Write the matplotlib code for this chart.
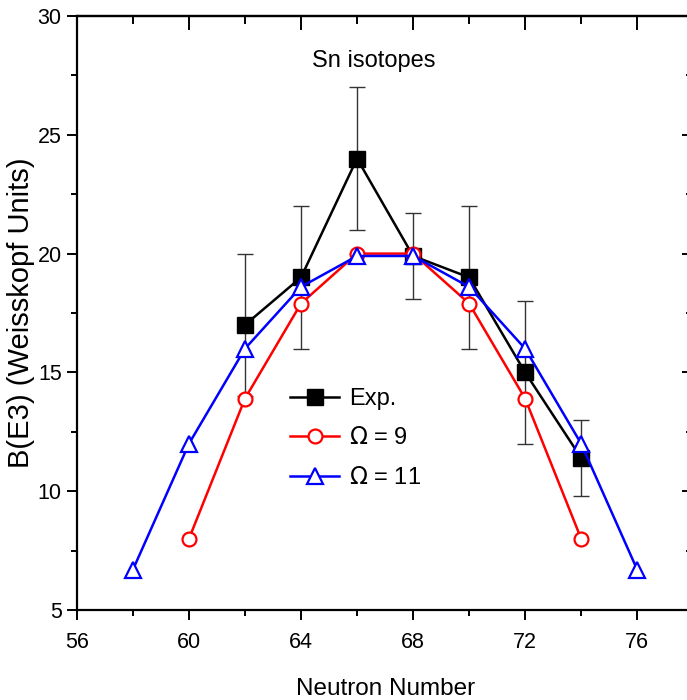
import numpy as np
import matplotlib.pyplot as plt
from matplotlib.ticker import MultipleLocator

plt.rcParams['font.family'] = ['Liberation Sans', 'DejaVu Sans']

# Experimental B(E3) values with errors
n_exp = [62, 64, 66, 68, 70, 72, 74]
b_exp = [17, 19, 24, 19.9, 19, 15, 11.4]
b_err = [3, 3, 3, 1.8, 3, 3, 1.6]

# Calculated values for two shell degeneracies
n_om9 = [60, 62, 64, 66, 68, 70, 72, 74]
b_om9 = [8, 13.9, 17.9, 20, 20, 17.9, 13.9, 8]

n_om11 = [58, 60, 62, 64, 66, 68, 70, 72, 74, 76]
b_om11 = [6.7, 12, 16, 18.6, 19.9, 19.9, 18.6, 16, 12, 6.7]

fig = plt.figure(figsize=(6.87, 7.0), dpi=100)
ax = fig.add_axes([0.112, 0.1286, 0.897, 0.8485])

ax.errorbar(n_exp, b_exp, yerr=b_err, fmt='none', ecolor='#333333',
            elinewidth=1, capsize=6, capthick=1, zorder=1)
ax.plot(n_exp, b_exp, '-s', color='black', lw=1.8, ms=11.5,
        mec='black', mfc='black', label='Exp.', zorder=2)
ax.plot(n_om9, b_om9, '-o', color='red', lw=1.8, ms=10, mew=1.6,
        mfc='white', mec='red', label=r'$\Omega$ = 9', zorder=3)
ax.plot(n_om11, b_om11, '-^', color='blue', lw=1.8, ms=11, mew=1.6,
        mfc='white', mec='blue', label=r'$\Omega$ = 11', zorder=4)

ax.set_xlim(56, 78)
ax.set_ylim(5, 30)
ax.xaxis.set_major_locator(MultipleLocator(4))
ax.xaxis.set_minor_locator(MultipleLocator(2))
ax.yaxis.set_major_locator(MultipleLocator(5))
ax.yaxis.set_minor_locator(MultipleLocator(2.5))

for s in ax.spines.values():
    s.set_linewidth(1.6)

ax.tick_params(which='both', direction='out', width=1.4, labelsize=15.5,
               top=False, right=False)
ax.tick_params(which='major', length=7)
ax.tick_params(which='minor', length=4)
ax.tick_params(axis='x', which='major', pad=8.5)
ax.tick_params(axis='y', which='major', pad=4)

# inward ticks on the mirrored axes
sec = ax.secondary_xaxis('top')
sec.xaxis.set_major_locator(MultipleLocator(4))
sec.xaxis.set_minor_locator(MultipleLocator(2))
sec.tick_params(which='both', direction='in', width=1.4, labeltop=False)
sec.tick_params(which='major', length=10)
sec.tick_params(which='minor', length=6)
sec.spines['top'].set_linewidth(1.6)
secy = ax.secondary_yaxis('right')
secy.yaxis.set_major_locator(MultipleLocator(5))
secy.yaxis.set_minor_locator(MultipleLocator(2.5))
secy.tick_params(which='both', direction='in', width=1.4, labelright=False)
secy.tick_params(which='major', length=8)
secy.tick_params(which='minor', length=5)

ax.set_xlabel('Neutron Number', fontsize=17.5, labelpad=18)
ax.set_ylabel('B(E3) (Weisskopf Units)', fontsize=21, labelpad=2)
ax.text(0.482, 0.925, 'Sn isotopes', transform=ax.transAxes,
        ha='center', va='center', fontsize=17)

ax.legend(loc='upper left', bbox_to_anchor=(0.33, 0.39), frameon=False,
          fontsize=17, handlelength=2.1, handletextpad=0.4,
          labelspacing=0.75, borderaxespad=0)

fig.savefig('out.png', dpi=100)
